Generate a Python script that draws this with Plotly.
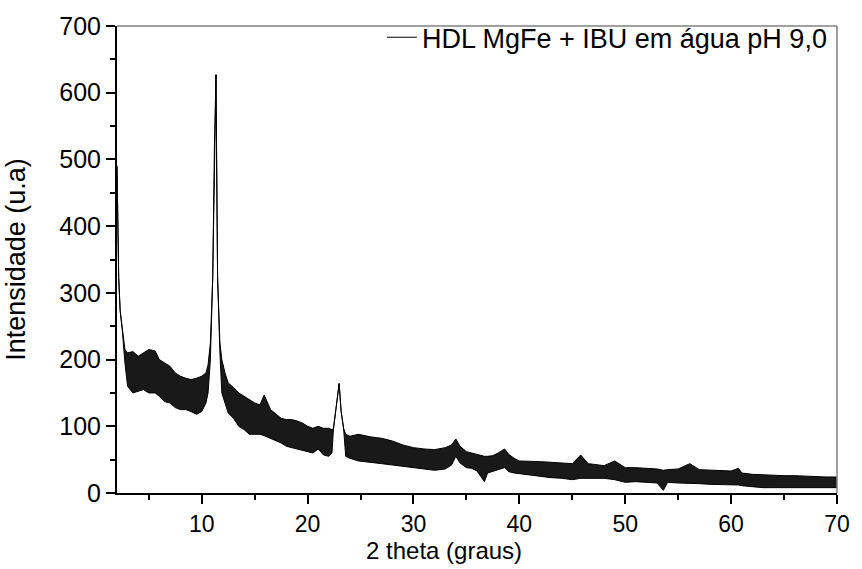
import plotly.graph_objects as go

# 2-theta positions (degrees) and the upper / lower edge of the noisy XRD trace (u.a.)
two_theta = [2.0, 2.05, 2.1, 2.16, 2.3, 2.5, 2.75, 3.0, 3.5, 4.0, 4.5, 5.0, 5.6, 6.0, 6.5, 7.0, 7.5, 8.0, 8.5,
             9.0, 9.5, 10.0, 10.4, 10.6, 10.82, 11.04, 11.2, 11.35, 11.4, 11.5, 11.72, 11.9, 12.2, 12.5,
             13.0, 13.5, 14.0, 14.5, 15.0, 15.5, 15.9, 16.5, 17.0, 17.5, 18.0, 18.5, 19.0, 19.5, 20.0,
             20.5, 21.0, 21.5, 22.0, 22.3, 22.45, 22.66, 22.98, 23.17, 23.4, 23.6, 24.0, 24.8, 25.5, 26.0,
             27.0, 28.0, 29.0, 30.0, 31.0, 32.0, 33.0, 33.6, 34.0, 34.4, 35.0, 35.5, 36.0, 36.7, 37.0,
             37.5, 38.0, 38.6, 39.0, 39.5, 40.0, 41.0, 42.0, 43.0, 44.0, 45.0, 45.8, 46.5, 47.0, 48.0,
             49.0, 50.0, 51.0, 52.0, 53.0, 53.6, 54.0, 55.0, 56.1, 57.0, 58.0, 59.0, 60.0, 60.7, 61.0,
             62.0, 63.0, 64.0, 65.0, 66.0, 67.0, 68.0, 69.0, 70.0]
intens_upper = [490, 440, 397, 323, 273, 244, 215, 210, 212, 205, 210, 215, 213, 200, 195, 190, 180, 175, 172,
                170, 172, 175, 180, 192, 225, 323, 519, 627, 519, 323, 225, 200, 180, 165,
                158, 150, 145, 140, 135, 132, 147, 125, 118, 112, 110, 110, 108, 105, 100,
                97, 100, 97, 97, 95, 97, 122, 164, 122, 97, 88, 85, 88, 85, 84,
                82, 78, 72, 68, 66, 65, 68, 72, 81, 70, 62, 60, 58, 55, 55,
                56, 60, 66, 58, 52, 48, 48, 47, 46, 45, 44, 57, 44, 43, 41,
                48, 38, 38, 37, 36, 34, 35, 36, 44, 35, 34, 33, 33, 37, 30,
                28, 27, 27, 26, 26, 25, 25, 24, 24]
intens_lower = [490, 440, 397, 323, 273, 244, 195, 160, 150, 152, 155, 150, 150, 145, 137, 135, 128, 125, 125,
                122, 118, 122, 135, 150, 200, 323, 519, 627, 519, 323, 210, 150, 135, 120,
                112, 100, 95, 88, 88, 88, 86, 82, 78, 75, 70, 68, 65, 63, 62,
                60, 66, 57, 55, 60, 97, 122, 164, 122, 97, 55, 52, 48, 47, 46,
                44, 42, 40, 38, 36, 34, 36, 42, 55, 45, 38, 37, 33, 17, 30,
                32, 35, 38, 32, 30, 29, 26, 25, 23, 22, 20, 22, 22, 22, 22,
                20, 16, 17, 16, 15, 4, 16, 15, 15, 14, 13, 13, 12, 12, 11,
                9, 8, 8, 8, 8, 8, 8, 8, 8]

x_ticks = [10, 20, 30, 40, 50, 60, 70]
y_ticks = [0, 100, 200, 300, 400, 500, 600, 700]
series_name = "HDL MgFe + IBU em água pH 9,0"
x_title = "2 theta (graus)"
y_title = "Intensidade (u.a)"

FONT = "Liberation Sans, Arial, sans-serif"

fig = go.Figure()
fig.add_trace(go.Scatter(x=two_theta, y=intens_upper, mode="lines", name=series_name,
                         line=dict(color="black", width=1), showlegend=True))
fig.add_trace(go.Scatter(x=two_theta, y=intens_lower, mode="lines", name=series_name,
                         line=dict(color="black", width=1), fill="tonexty",
                         fillcolor="rgba(0,0,0,0.9)", showlegend=False))

axis_common = dict(showline=True, linecolor="black", linewidth=2, ticks="outside",
                   tickcolor="black", tickwidth=2, ticklen=9, showgrid=False, zeroline=False)

fig.update_xaxes(range=[2, 70], tickvals=x_ticks,
                 tickfont=dict(family=FONT, size=23, color="black"),
                 minor=dict(dtick=5, tick0=0, ticks="outside", ticklen=5, tickwidth=2, tickcolor="black"),
                 **axis_common)
fig.update_yaxes(range=[0, 700], tickvals=y_ticks,
                 tickfont=dict(family=FONT, size=25, color="black"),
                 minor=dict(dtick=50, tick0=0, ticks="outside", ticklen=5, tickwidth=2, tickcolor="black"),
                 title=dict(text=y_title, font=dict(family=FONT, size=27, color="black"), standoff=26),
                 **axis_common)

# x-axis title (sits slightly left of the plot centre in the reference)
fig.add_annotation(text=x_title, x=32.9, xref="x", y=-0.124, yref="paper",
                   xanchor="center", yanchor="middle", showarrow=False,
                   font=dict(family=FONT, size=24, color="black"))

# thin gray frame on top and right
fig.add_shape(type="line", xref="paper", yref="paper", x0=0, x1=1, y0=1, y1=1,
              line=dict(color="#808080", width=1.5))
fig.add_shape(type="line", xref="paper", yref="paper", x0=1, x1=1, y0=0, y1=1,
              line=dict(color="#808080", width=1.5))

fig.update_layout(
    width=862, height=569,
    margin=dict(l=117, r=20, t=16, b=76),
    paper_bgcolor="white", plot_bgcolor="white",
    font=dict(family=FONT, color="black"),
    legend=dict(x=0.368, y=0.975, xanchor="left", yanchor="middle", bgcolor="rgba(0,0,0,0)",
                font=dict(family=FONT, size=27, color="black")),
)

fig.write_html("out.html")
